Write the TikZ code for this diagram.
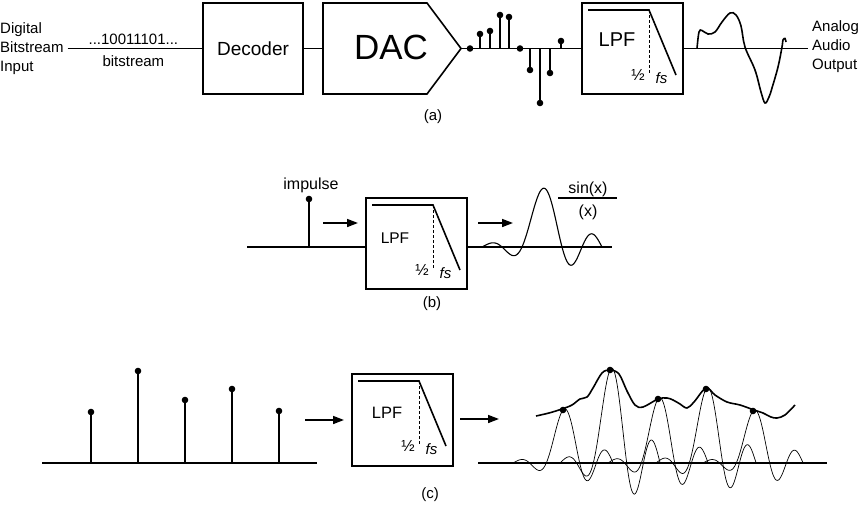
\documentclass[tikz,border=0pt]{standalone}
\usepackage{fontspec}
\setmainfont{Liberation Sans}
\usetikzlibrary{arrows.meta, positioning}

\tikzset{
    lpfgraph/.pic={
        \draw[thick line] (6,7) -- (67,7) -- (94,72);
        \draw[line width=1pt, dash pattern=on 3pt off 2pt] (67,7) -- (67,70);
        \node[font=\fontsize{16}{16}\selectfont, inner sep=0] (-half) at (56,72) {½};
        \node[font=\fontsize{15}{15}\selectfont\itshape, inner sep=0] (-fs) at (79.5,75) {fs};
    }
}

\begin{document}
\begin{tikzpicture}[
    x=1pt, y=-1pt,
    thick line/.style={line width=1.6pt},
    thin line/.style={line width=0.7pt},
    box/.style={draw, line width=1.6pt, minimum width=101pt, minimum height=91pt, inner sep=0, outer sep=0},
    lbl/.style={font=\fontsize{15}{19}\selectfont, inner sep=1pt},
    arr/.style={line width=1.6pt, -{Triangle[length=11pt, width=8pt]}}
]
    \useasboundingbox (0,0) rectangle (862,508);

    % (a) Input and decoder
    \node[lbl, align=left, anchor=west, inner sep=0pt] (inlbl) at (0,48.5) {Digital\\Bitstream\\Input};
    \node[box, minimum width=100pt, font=\fontsize{19}{19}\selectfont] (dec) at (253,48.5) {Decoder};
    \draw[thick line, shorten <=4pt] (inlbl) -- (dec)
        node[lbl, midway, above=2pt] {...10011101...}
        node[lbl, midway, below=5pt] {bitstream};

    % (a) DAC
    \coordinate (dacL) at (323,48.5);
    \coordinate (dacR) at (461,48.5);
    \draw[thick line] (323,3) -- (427,3) -- (dacR) -- (427,94) -- (323,94) -- cycle;
    \node[font=\fontsize{35}{35}\selectfont] (dac) at (391,47) {DAC};
    \draw[thick line] (dec) -- (dacL);

    % (a) Filter
    \node[box] (lpfA) at (632.5,48.5) {};
    \pic (lpfgA) at (lpfA.north west) {lpfgraph};
    \node[font=\fontsize{20}{20}\selectfont] (lpfAtxt) at (617,40) {LPF};

    % (a) Samples
    \draw[thick line] (dacR) -- (lpfA);
    \foreach \sx/\sy in {470/48.5, 480/34, 490/31, 500/15, 509/17, 520/48.5, 530/70, 540/103, 550/73, 561/41} {
        \draw[thick line] (\sx,48.5) -- (\sx,\sy);
        \fill (\sx,\sy) circle (3.3pt);
    }

    % (a) Output
    \node[lbl, align=left, anchor=west, inner sep=0pt] (outlbl) at (812,47) {Analog\\Audio\\Output};
    \draw[thick line, shorten >=4pt] (lpfA) -- (outlbl.west |- lpfA);
    \draw[thick line] plot[smooth, tension=0.6] coordinates {(697,48.5) (699,32) (702,30.5) (708,34) (715,32) (722,22) (730,13) (736,15) (741,26) (745,47) (755,70) (761,92) (765,103) (769,97) (772,88) (778,67) (782,47) (783,40) (785,38.5) (786,42)};
    \node[lbl] (capA) at (433,117) {(a)};

    % (b) Impulse response
    \coordinate (bL) at (247,247);
    \coordinate (bR) at (612,247);
    \node[box] (lpfB) at (416.5,243.5) {};
    \pic (lpfgB) at (lpfB.north west) {lpfgraph};
    \node[font=\fontsize{15.5}{15.5}\selectfont] (lpfBtxt) at (395,238) {LPF};
    \draw[thick line] (bL) -- (lpfB.west |- bL);
    \draw[thick line] (lpfB.east |- bL) -- (bR);
    \coordinate (imptop) at (309,199);
    \draw[thick line] (imptop |- bL) -- (imptop);
    \fill (imptop) circle (3.3pt);
    \node[lbl, font=\fontsize{16}{16}\selectfont] (imp) at (311,185) {impulse};
    \coordinate (b1s) at (323,223);
    \coordinate (b1e) at (358,223);
    \draw[arr] (b1s) -- (b1e);
    \coordinate (b2s) at (478,223);
    \coordinate (b2e) at (513,223);
    \draw[arr] (b2s) -- (b2e);
    \draw[line width=1.1pt] plot[domain=-3*pi:3*pi, samples=90, smooth] ({542+\x*20/pi}, {247-58*sin(\x r)/\x*(1+0.1*abs(\x))});
    \node[lbl, font=\fontsize{16}{16}\selectfont] (sinx) at (588,189) {sin(x)};
    \draw[line width=1.1pt] (558,198) -- (617,198);
    \node[lbl, font=\fontsize{16}{16}\selectfont] (xden) at (588,212) {(x)};
    \node[lbl] (capB) at (432,304) {(b)};

    % (c) Sample train in
    \coordinate (cL) at (42,463);
    \coordinate (cM) at (317,463);
    \draw[thick line] (cL) -- (cM);
    \foreach \sx/\sy in {91/412, 138/371, 185/400, 232/389, 279/411} {
        \draw[thick line] (\sx,463) -- (\sx,\sy);
        \fill (\sx,\sy) circle (3.3pt);
    }
    \coordinate (c1s) at (305,420);
    \coordinate (c1e) at (344,420);
    \draw[arr] (c1s) -- (c1e);

    % (c) Filter
    \node[box, minimum height=92pt] (lpfC) at (402.5,420) {};
    \pic (lpfgC) at (lpfC.north west) {lpfgraph};
    \node[font=\fontsize{16.5}{16.5}\selectfont] (lpfCtxt) at (387,413) {LPF};
    \coordinate (c2s) at (460,419);
    \coordinate (c2e) at (499,419);
    \draw[arr] (c2s) -- (c2e);

    % (c) Summed responses
    \coordinate (cR0) at (478,463);
    \coordinate (cR1) at (827,463);
    \draw[thick line] (cR0) -- (cR1);
    \foreach \cx/\cy in {563/410, 610/370, 658/399, 706/389, 753/411} {
        \draw[thin line] plot[domain=-3*pi:3*pi, samples=90, smooth] ({\cx+\x*16.7/pi}, {463-(463-\cy)*sin(\x r)/\x*(1+0.12*abs(\x))});
    }
    \draw[thick line] plot[smooth, tension=0.55] coordinates {(536,416) (549,413) (562,409) (572,405) (580,399) (587,397) (593,388) (602,373) (610,370) (619,374) (627,391) (635,405) (643,407) (658,399) (667,398) (673,400) (680,404) (687,408) (694,402) (706,388) (715,395) (727,402) (740,405) (754,410) (763,413) (771,417) (777,418) (785,415) (795,405)};
    \foreach \cx/\cy in {563/410, 610/370, 658/399, 706/389, 753/411} {
        \fill (\cx,\cy) circle (3.3pt);
    }
    \node[lbl] (capC) at (430,495) {(c)};
\end{tikzpicture}
\end{document}
